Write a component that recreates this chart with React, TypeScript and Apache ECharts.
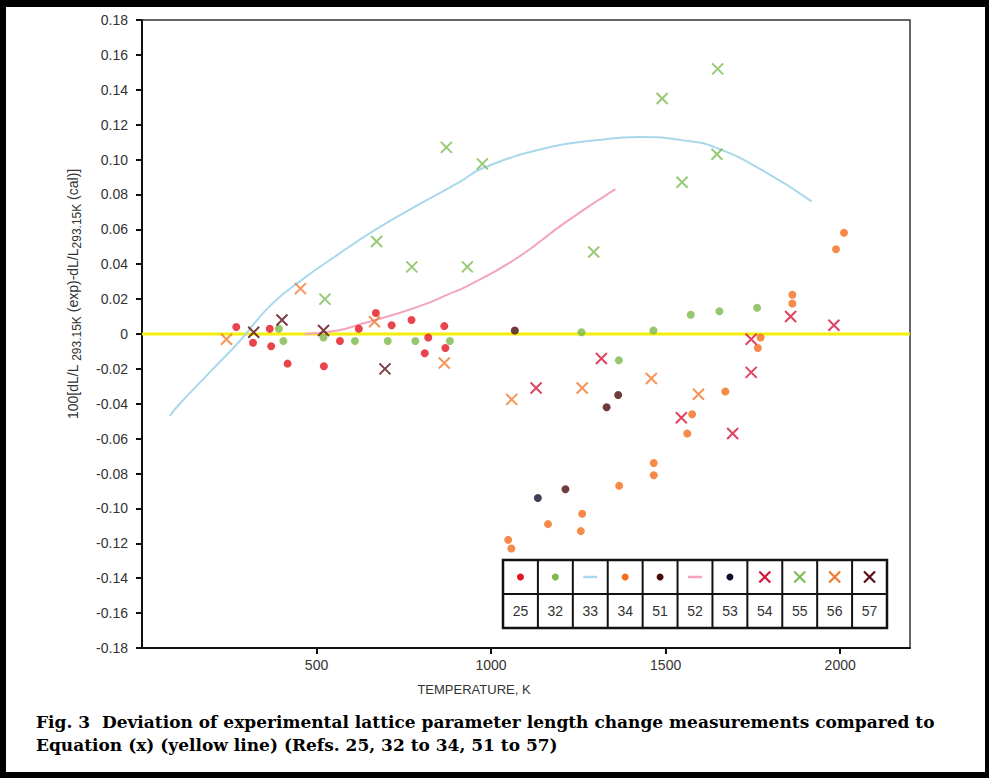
import React, { useEffect, useRef } from 'react';
import * as echarts from 'echarts';

// ---------- data (T in K, deviation) ----------
const xTickValues = [500, 1000, 1500, 2000];
const equationLine = [[0, 0], [2200, 0]];

const ref25 = [
  [270, 0.004], [318, -0.005], [366, 0.003], [370, -0.007], [417, -0.017], [521, -0.0185],
  [567, -0.004], [621, 0.003], [670, 0.012], [715, 0.005], [772, 0.008], [810, -0.011],
  [820, -0.002], [866, 0.0045], [869, -0.008],
];
const ref32 = [
  [392, 0.003], [405, -0.004], [520, -0.002], [610, -0.004], [704, -0.004], [783, -0.004],
  [882, -0.004], [1259, 0.001], [1366, -0.015], [1465, 0.002], [1572, 0.011], [1654, 0.013],
  [1762, 0.015],
];
const ref33 = [
  [80, -0.047], [99, -0.042], [194, -0.022], [280, -0.004], [366, 0.016], [451, 0.03],
  [550, 0.044], [670, 0.06], [800, 0.075], [909, 0.087], [975, 0.095], [1166, 0.107],
  [1300, 0.111], [1423, 0.113], [1550, 0.111], [1642, 0.107], [1785, 0.093], [1918, 0.076],
];
const ref34 = [
  [1049, -0.118], [1058, -0.123], [1163, -0.109], [1257, -0.113], [1261, -0.103], [1367, -0.087],
  [1466, -0.081], [1466, -0.074], [1562, -0.057], [1576, -0.046], [1671, -0.033], [1764, -0.008],
  [1772, -0.002], [1863, 0.0175], [1863, 0.0225], [1988, 0.0486], [2011, 0.058],
];
const ref51 = [[1068, 0.002], [1213, -0.089], [1331, -0.042], [1364, -0.035]];
const ref52 = [
  [466, 0], [560, 0.002], [632, 0.006], [720, 0.011], [823, 0.018], [880, 0.023],
  [927, 0.027], [1070, 0.043], [1213, 0.064], [1356, 0.083],
];
const ref53 = [[1134, -0.094]];
const ref54 = [
  [1129, -0.031], [1316, -0.014], [1545, -0.048], [1692, -0.057], [1745, -0.022],
  [1745, -0.003], [1858, 0.01], [1982, 0.005],
];
const ref55 = [
  [524, 0.02], [672, 0.053], [773, 0.0385], [872, 0.107], [932, 0.0385], [975, 0.0975],
  [1294, 0.047], [1490, 0.135], [1547, 0.087], [1647, 0.103], [1649, 0.152],
];
const ref56 = [
  [242, -0.003], [454, 0.026], [666, 0.007], [866, -0.0166], [1059, -0.0375], [1261, -0.031],
  [1459, -0.0255], [1594, -0.0345],
];
const ref57 = [[320, 0.001], [401, 0.008], [520, 0.002], [696, -0.02]];

const legendRefs = ['25', '32', '33', '34', '51', '52', '53', '54', '55', '56', '57'];
const legendKinds = ['dot', 'dot', 'line', 'dot', 'dot', 'line', 'dot', 'x', 'x', 'x', 'x'];
const refColors = [
  '#e3141f', '#7db84e', '#a9d8ec', '#f36d1c', '#4a0b0b', '#f2a5bd', '#10102e',
  '#d8143a', '#7cbd52', '#f27a2e', '#5a0f14',
];

const captionLines = [
  'Fig. 3  Deviation of experimental lattice parameter length change measurements compared to',
  'Equation (x) (yellow line) (Refs. 25, 32 to 34, 51 to 57)',
];

const X_PATH = 'path://M0,0L10,10M10,0L0,10';

export default function App() {
  const ref = useRef<HTMLDivElement>(null);

  useEffect(() => {
    document.body.style.margin = '0';
    const chart = echarts.init(ref.current!, null, { renderer: 'svg' });

    const dot = (name: string, data: number[][], color: string) => ({
      type: 'scatter', name, data, symbol: 'circle', symbolSize: 8,
      itemStyle: { color }, z: 3,
    });
    const cross = (name: string, data: number[][], color: string) => ({
      type: 'scatter', name, data, symbol: X_PATH, symbolSize: 11,
      itemStyle: { color: 'rgba(0,0,0,0)', borderColor: color, borderWidth: 2 }, z: 4,
    });

    // legend table
    const lgLeft = 503, lgTop = 560, lgW = 384, lgRow = 34, cols = legendRefs.length;
    const cw = lgW / cols;
    const legendChildren: any[] = [];
    legendChildren.push({
      type: 'rect', shape: { x: lgLeft, y: lgTop, width: lgW, height: lgRow * 2 },
      style: { fill: '#fff', stroke: '#111', lineWidth: 2.5 },
    });
    legendChildren.push({
      type: 'line', shape: { x1: lgLeft, y1: lgTop + lgRow, x2: lgLeft + lgW, y2: lgTop + lgRow },
      style: { stroke: '#111', lineWidth: 2 },
    });
    for (let i = 1; i < cols; i++) {
      const x = lgLeft + cw * i;
      legendChildren.push({
        type: 'line', shape: { x1: x, y1: lgTop, x2: x, y2: lgTop + lgRow * 2 },
        style: { stroke: '#111', lineWidth: 2 },
      });
    }
    legendRefs.forEach((r, i) => {
      const cx = lgLeft + cw * (i + 0.5);
      const cy = lgTop + lgRow / 2;
      const c = refColors[i];
      const k = legendKinds[i];
      if (k === 'dot') {
        legendChildren.push({ type: 'circle', shape: { cx, cy, r: 3.5 }, style: { fill: c } });
      } else if (k === 'line') {
        legendChildren.push({
          type: 'line', shape: { x1: cx - 7, y1: cy, x2: cx + 7, y2: cy },
          style: { stroke: c, lineWidth: 2.5 },
        });
      } else {
        legendChildren.push({
          type: 'line', shape: { x1: cx - 5.5, y1: cy - 5.5, x2: cx + 5.5, y2: cy + 5.5 },
          style: { stroke: c, lineWidth: 2.2 },
        });
        legendChildren.push({
          type: 'line', shape: { x1: cx + 5.5, y1: cy - 5.5, x2: cx - 5.5, y2: cy + 5.5 },
          style: { stroke: c, lineWidth: 2.2 },
        });
      }
      legendChildren.push({
        type: 'text', x: cx, y: lgTop + lgRow * 1.5,
        style: {
          text: r, align: 'center', verticalAlign: 'middle',
          font: '14px "Liberation Sans", Arial, sans-serif', fill: '#333',
        },
      });
    });

    const option: any = {
      animation: false,
      backgroundColor: '#fff',
      grid: {
        left: 142, right: 79, top: 20, bottom: 130,
        show: true, borderColor: '#333', borderWidth: 1.5, backgroundColor: 'transparent',
      },
      xAxis: {
        type: 'value', min: 0, max: 2200,
        axisLine: { onZero: false, lineStyle: { color: '#111', width: 2 } },
        axisTick: { show: true, length: 6, customValues: xTickValues, lineStyle: { color: '#111', width: 2 } },
        axisLabel: {
          customValues: xTickValues, margin: 10, color: '#333', fontSize: 14,
          fontFamily: '"Liberation Sans", Arial, sans-serif',
          formatter: (v: number) => String(v),
        },
        splitLine: { show: false },
      },
      yAxis: {
        type: 'value', min: -0.18, max: 0.18, interval: 0.02,
        axisLine: { show: true, onZero: false, lineStyle: { color: '#111', width: 2 } },
        axisTick: { show: true, length: 6, lineStyle: { color: '#111', width: 2 } },
        axisLabel: {
          margin: 14, color: '#333', fontSize: 14,
          fontFamily: '"Liberation Sans", Arial, sans-serif',
          formatter: (v: number) => (Math.abs(v) < 1e-9 ? '0' : v.toFixed(2)),
        },
        splitLine: { show: false },
      },
      series: [
        {
          type: 'line', name: 'Equation (x)', data: equationLine, symbol: 'none',
          lineStyle: { color: '#f3ee0a', width: 3 }, z: 1,
        },
        {
          type: 'line', name: '33', data: ref33, smooth: 0.5, symbol: 'none',
          lineStyle: { color: refColors[2], width: 2 }, z: 2,
        },
        {
          type: 'line', name: '52', data: ref52, smooth: 0.5, symbol: 'none',
          lineStyle: { color: refColors[5], width: 2 }, z: 2,
        },
        dot('25', ref25, refColors[0]),
        dot('32', ref32, refColors[1]),
        dot('34', ref34, refColors[3]),
        dot('51', ref51, refColors[4]),
        dot('53', ref53, refColors[6]),
        cross('54', ref54, refColors[7]),
        cross('55', ref55, refColors[8]),
        cross('56', ref56, refColors[9]),
        cross('57', ref57, refColors[10]),
      ],
      graphic: [
        // figure frame
        { type: 'rect', shape: { x: 0, y: 0, width: 989, height: 7 }, style: { fill: '#000' } },
        { type: 'rect', shape: { x: 0, y: 0, width: 6, height: 778 }, style: { fill: '#000' } },
        { type: 'rect', shape: { x: 0, y: 772, width: 989, height: 6 }, style: { fill: '#000' } },
        { type: 'rect', shape: { x: 985, y: 0, width: 4, height: 778 }, style: { fill: '#000' } },
        // axis titles
        {
          type: 'text', x: 73, y: 294, rotation: Math.PI / 2,
          style: {
            text: '{n|100[dL/L }{s|293.15K}{n| (exp)-dL/L}{s|293.15K}{n| (cal)]}',
            align: 'center', verticalAlign: 'middle', fill: '#333',
            rich: {
              n: { fontSize: 14, fontFamily: '"Liberation Sans", Arial, sans-serif', fill: '#333', lineHeight: 20 },
              s: { fontSize: 12, fontFamily: '"Liberation Sans", Arial, sans-serif', fill: '#333', lineHeight: 12, verticalAlign: 'bottom' },
            },
          },
        },
        {
          type: 'text', x: 474, y: 689,
          style: {
            text: 'TEMPERATURE, K', align: 'center', verticalAlign: 'middle',
            font: '13px "Liberation Sans", Arial, sans-serif', fill: '#333',
          },
        },
        // caption
        {
          type: 'text', x: 36, y: 722,
          style: {
            text: captionLines[0], align: 'left', verticalAlign: 'middle',
            font: 'bold 17px "DejaVu Serif", serif', fill: '#000',
          },
        },
        {
          type: 'text', x: 36, y: 745,
          style: {
            text: captionLines[1], align: 'left', verticalAlign: 'middle',
            font: 'bold 17px "DejaVu Serif", serif', fill: '#000',
          },
        },
        { type: 'group', children: legendChildren, z: 100 },
      ],
    };

    chart.setOption(option);
    return () => chart.dispose();
  }, []);

  return <div ref={ref} style={{ width: 989, height: 778 }} />;
}
